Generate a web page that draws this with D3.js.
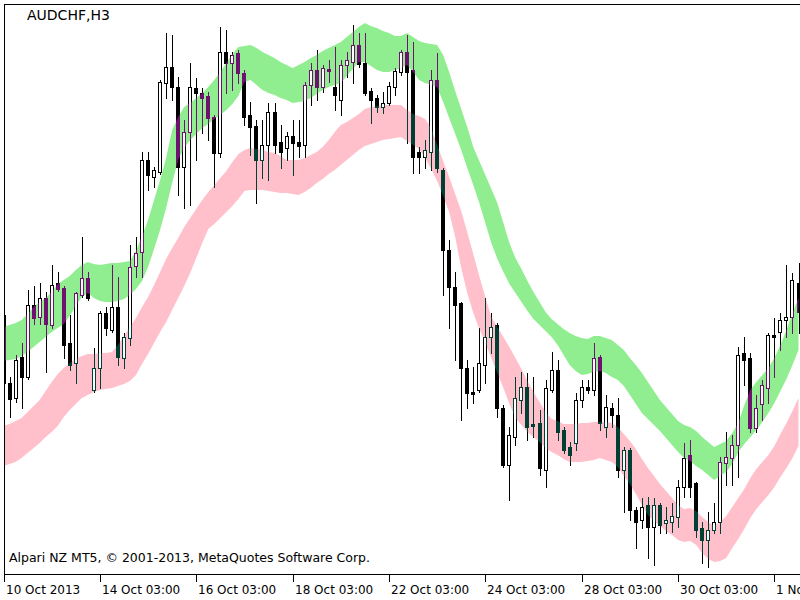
<!DOCTYPE html>
<html><head><meta charset="utf-8">
<script src="https://cdn.jsdelivr.net/npm/d3@7"></script>
<style>html,body{margin:0;padding:0;background:#fff;} svg{display:block;}</style>
</head><body>
<svg id="c" width="800" height="600"></svg>
<script>
const symbolTitle = "AUDCHF,H3";
const footerText = "Alpari NZ MT5, \u00A9 2001-2013, MetaQuotes Software Corp.";
const tickIndex = [0,16,32,48,64,80,96,112,128];
const tickLabels = ["10 Oct 2013","14 Oct 03:00","16 Oct 03:00","18 Oct 03:00","22 Oct 03:00","24 Oct 03:00","28 Oct 03:00","30 Oct 03:00","1 Nov 03:00"];

const open = [0.87425,0.87085,0.87010,0.87215,0.87115,0.87475,0.87415,0.87510,0.87375,0.87585,0.87560,0.87285,0.87185,0.87525,0.87610,0.87050,0.87160,0.87435,0.87350,0.87465,0.87210,0.87310,0.87670,0.87740,0.88200,0.88115,0.88140,0.88585,0.88665,0.88565,0.88165,0.88340,0.88560,0.88535,0.88520,0.88415,0.88235,0.88740,0.88685,0.88735,0.88635,0.88425,0.88370,0.88200,0.88275,0.88440,0.88290,0.88260,0.88320,0.88290,0.88275,0.88575,0.88650,0.88565,0.88655,0.88565,0.88500,0.88675,0.88690,0.88775,0.88685,0.88545,0.88510,0.88465,0.88485,0.88565,0.88640,0.88740,0.88650,0.88240,0.88215,0.88240,0.88600,0.88150,0.87750,0.87565,0.87485,0.87160,0.87040,0.87050,0.87175,0.87315,0.87375,0.86960,0.86675,0.86815,0.87000,0.87065,0.86880,0.86885,0.86650,0.87050,0.87150,0.86850,0.86765,0.86785,0.87000,0.87065,0.87050,0.87215,0.86865,0.86960,0.86925,0.86650,0.86750,0.86450,0.86400,0.86475,0.86365,0.86475,0.86385,0.86390,0.86415,0.86565,0.86725,0.86585,0.86360,0.86300,0.86350,0.86390,0.86685,0.86710,0.86775,0.87235,0.87210,0.86860,0.86980,0.87060,0.87325,0.87340,0.87400,0.87415,0.87585];
const high = [0.87440,0.87115,0.87225,0.87285,0.87550,0.87570,0.87585,0.87540,0.87675,0.87640,0.87570,0.87425,0.87540,0.87815,0.87640,0.87260,0.87445,0.87465,0.87675,0.87615,0.87335,0.87775,0.87815,0.88240,0.88240,0.88165,0.88600,0.88835,0.88825,0.88615,0.88400,0.88685,0.88610,0.88560,0.88540,0.88425,0.88865,0.88850,0.88740,0.88750,0.88650,0.88490,0.88400,0.88400,0.88485,0.88485,0.88375,0.88340,0.88400,0.88400,0.88590,0.88685,0.88750,0.88675,0.88700,0.88765,0.88700,0.88740,0.88875,0.88835,0.88835,0.88560,0.88525,0.88540,0.88590,0.88660,0.88750,0.88825,0.88790,0.88265,0.88300,0.88650,0.88735,0.88160,0.87800,0.87640,0.87490,0.87200,0.87165,0.87360,0.87510,0.87435,0.87385,0.86975,0.86865,0.87115,0.87140,0.87135,0.87115,0.86950,0.87100,0.87240,0.87200,0.86865,0.86790,0.87035,0.87100,0.87100,0.87285,0.87225,0.87025,0.86985,0.87010,0.86765,0.86760,0.86465,0.86510,0.86515,0.86510,0.86485,0.86465,0.86485,0.86600,0.86785,0.86800,0.86590,0.86390,0.86440,0.86485,0.86715,0.86840,0.86825,0.87265,0.87315,0.87235,0.87025,0.87100,0.87335,0.87410,0.87435,0.87675,0.87635,0.87685];
const low = [0.87070,0.86915,0.86990,0.86960,0.87105,0.87380,0.87380,0.87140,0.87360,0.87545,0.87210,0.87150,0.87085,0.87515,0.87500,0.87040,0.87060,0.87325,0.87340,0.87175,0.87160,0.87275,0.87615,0.87615,0.88050,0.88065,0.88130,0.88510,0.88500,0.88025,0.87960,0.87975,0.88200,0.88335,0.88300,0.88065,0.88215,0.88535,0.88550,0.88585,0.88375,0.88225,0.87985,0.88110,0.88100,0.88235,0.88160,0.88200,0.88125,0.88215,0.88215,0.88475,0.88500,0.88540,0.88590,0.88450,0.88425,0.88615,0.88585,0.88665,0.88525,0.88385,0.88440,0.88435,0.88475,0.88525,0.88625,0.88285,0.88135,0.88135,0.88160,0.88150,0.88140,0.87525,0.87360,0.87200,0.86900,0.86960,0.86985,0.87040,0.87085,0.87235,0.86915,0.86665,0.86500,0.86775,0.86935,0.86800,0.86815,0.86625,0.86565,0.87040,0.86800,0.86735,0.86675,0.86750,0.86965,0.87035,0.87025,0.86850,0.86815,0.86865,0.86615,0.86440,0.86400,0.86260,0.86360,0.86210,0.86175,0.86335,0.86335,0.86340,0.86365,0.86515,0.86515,0.86315,0.86185,0.86165,0.86335,0.86335,0.86575,0.86575,0.86615,0.87075,0.86840,0.86840,0.86900,0.86985,0.87115,0.87250,0.87315,0.87335,0.87335];
const close = [0.87085,0.87005,0.87200,0.87115,0.87475,0.87410,0.87510,0.87380,0.87575,0.87555,0.87275,0.87175,0.87535,0.87610,0.87510,0.87160,0.87435,0.87360,0.87465,0.87215,0.87315,0.87665,0.87735,0.88200,0.88125,0.88150,0.88590,0.88665,0.88565,0.88165,0.88340,0.88565,0.88535,0.88510,0.88410,0.88235,0.88740,0.88685,0.88725,0.88635,0.88415,0.88365,0.88200,0.88275,0.88440,0.88275,0.88240,0.88320,0.88285,0.88270,0.88575,0.88650,0.88565,0.88660,0.88645,0.88525,0.88675,0.88700,0.88775,0.88680,0.88535,0.88500,0.88465,0.88485,0.88570,0.88645,0.88740,0.88640,0.88215,0.88215,0.88250,0.88600,0.88160,0.87750,0.87565,0.87475,0.87160,0.87035,0.87030,0.87185,0.87315,0.87365,0.86960,0.86675,0.86825,0.87010,0.87065,0.86865,0.86870,0.86660,0.87060,0.87150,0.86840,0.86750,0.86725,0.87000,0.87065,0.87050,0.87210,0.86885,0.86965,0.86925,0.86650,0.86750,0.86450,0.86390,0.86465,0.86365,0.86475,0.86375,0.86400,0.86420,0.86565,0.86710,0.86565,0.86350,0.86300,0.86350,0.86390,0.86690,0.86715,0.86775,0.87225,0.87200,0.86860,0.86960,0.87075,0.87325,0.87315,0.87400,0.87415,0.87600,0.87440];

// upper (green) envelope band
const upperTop = [0.87365,0.87375,0.87385,0.87400,0.87430,0.87465,0.87490,0.87510,0.87540,0.87580,0.87600,0.87620,0.87650,0.87675,0.87690,0.87680,0.87675,0.87680,0.87685,0.87685,0.87690,0.87695,0.87745,0.87820,0.87900,0.88000,0.88100,0.88210,0.88350,0.88415,0.88465,0.88485,0.88510,0.88535,0.88565,0.88600,0.88640,0.88685,0.88730,0.88765,0.88770,0.88775,0.88760,0.88740,0.88725,0.88710,0.88690,0.88675,0.88660,0.88675,0.88690,0.88710,0.88725,0.88745,0.88760,0.88775,0.88790,0.88815,0.88840,0.88865,0.88885,0.88870,0.88860,0.88845,0.88835,0.88820,0.88820,0.88835,0.88815,0.88795,0.88785,0.88780,0.88775,0.88725,0.88640,0.88545,0.88455,0.88365,0.88265,0.88195,0.88125,0.88055,0.87985,0.87885,0.87785,0.87710,0.87655,0.87595,0.87540,0.87490,0.87440,0.87405,0.87380,0.87355,0.87335,0.87320,0.87310,0.87305,0.87320,0.87320,0.87310,0.87300,0.87275,0.87250,0.87210,0.87175,0.87135,0.87090,0.87045,0.87000,0.86965,0.86930,0.86895,0.86875,0.86865,0.86845,0.86815,0.86790,0.86765,0.86780,0.86795,0.86835,0.86885,0.86975,0.87050,0.87090,0.87125,0.87160,0.87210,0.87275,0.87350,0.87435,0.87510];
const upperBottom = [0.87195,0.87200,0.87205,0.87220,0.87240,0.87265,0.87290,0.87315,0.87340,0.87360,0.87380,0.87420,0.87470,0.87515,0.87535,0.87510,0.87495,0.87490,0.87490,0.87495,0.87505,0.87525,0.87555,0.87595,0.87665,0.87755,0.87850,0.87960,0.88085,0.88200,0.88260,0.88300,0.88330,0.88360,0.88380,0.88405,0.88425,0.88450,0.88480,0.88520,0.88590,0.88600,0.88575,0.88550,0.88535,0.88525,0.88510,0.88500,0.88485,0.88490,0.88495,0.88510,0.88530,0.88550,0.88565,0.88575,0.88585,0.88620,0.88655,0.88690,0.88690,0.88670,0.88650,0.88640,0.88640,0.88650,0.88660,0.88675,0.88640,0.88600,0.88585,0.88575,0.88565,0.88490,0.88410,0.88330,0.88250,0.88160,0.88075,0.87985,0.87885,0.87785,0.87705,0.87640,0.87580,0.87535,0.87490,0.87445,0.87405,0.87375,0.87345,0.87315,0.87275,0.87225,0.87175,0.87145,0.87125,0.87130,0.87140,0.87145,0.87135,0.87115,0.87100,0.87070,0.87025,0.86980,0.86935,0.86905,0.86875,0.86845,0.86810,0.86775,0.86740,0.86710,0.86695,0.86670,0.86650,0.86625,0.86600,0.86620,0.86640,0.86680,0.86740,0.86780,0.86815,0.86850,0.86890,0.86935,0.86985,0.87045,0.87105,0.87175,0.87250];
// lower (pink) envelope band
const lowerTop = [0.86870,0.86880,0.86895,0.86910,0.86940,0.86970,0.87000,0.87045,0.87090,0.87130,0.87160,0.87185,0.87205,0.87220,0.87230,0.87230,0.87235,0.87235,0.87240,0.87275,0.87320,0.87365,0.87410,0.87465,0.87515,0.87575,0.87640,0.87705,0.87760,0.87810,0.87865,0.87910,0.87955,0.88000,0.88040,0.88075,0.88110,0.88145,0.88190,0.88230,0.88250,0.88260,0.88255,0.88250,0.88240,0.88235,0.88220,0.88200,0.88200,0.88200,0.88210,0.88225,0.88240,0.88265,0.88300,0.88340,0.88375,0.88390,0.88410,0.88430,0.88455,0.88465,0.88470,0.88475,0.88475,0.88475,0.88475,0.88450,0.88430,0.88420,0.88405,0.88360,0.88275,0.88195,0.88115,0.88030,0.87945,0.87840,0.87730,0.87620,0.87515,0.87415,0.87365,0.87315,0.87265,0.87210,0.87155,0.87095,0.87040,0.86990,0.86940,0.86905,0.86895,0.86880,0.86880,0.86880,0.86885,0.86885,0.86890,0.86890,0.86890,0.86885,0.86865,0.86830,0.86795,0.86755,0.86705,0.86660,0.86620,0.86580,0.86545,0.86510,0.86475,0.86455,0.86460,0.86445,0.86415,0.86390,0.86370,0.86390,0.86420,0.86465,0.86510,0.86555,0.86610,0.86655,0.86690,0.86725,0.86770,0.86830,0.86885,0.86945,0.87010];
const lowerBottom = [0.86670,0.86680,0.86690,0.86710,0.86735,0.86760,0.86785,0.86815,0.86840,0.86870,0.86915,0.86950,0.86980,0.87010,0.87025,0.87040,0.87050,0.87055,0.87060,0.87070,0.87080,0.87095,0.87125,0.87180,0.87230,0.87285,0.87340,0.87390,0.87450,0.87510,0.87570,0.87635,0.87710,0.87785,0.87855,0.87880,0.87910,0.87940,0.87970,0.88005,0.88045,0.88050,0.88050,0.88050,0.88045,0.88040,0.88035,0.88035,0.88030,0.88025,0.88040,0.88060,0.88085,0.88105,0.88130,0.88150,0.88175,0.88200,0.88225,0.88250,0.88270,0.88280,0.88290,0.88300,0.88305,0.88310,0.88315,0.88295,0.88275,0.88255,0.88210,0.88155,0.88095,0.88020,0.87940,0.87815,0.87660,0.87535,0.87435,0.87355,0.87285,0.87210,0.87135,0.87060,0.86980,0.86910,0.86875,0.86840,0.86815,0.86790,0.86760,0.86740,0.86725,0.86705,0.86690,0.86690,0.86690,0.86695,0.86700,0.86710,0.86700,0.86690,0.86665,0.86620,0.86580,0.86530,0.86475,0.86425,0.86395,0.86370,0.86345,0.86325,0.86300,0.86290,0.86295,0.86275,0.86235,0.86205,0.86190,0.86195,0.86210,0.86260,0.86305,0.86355,0.86410,0.86455,0.86490,0.86525,0.86565,0.86615,0.86660,0.86710,0.86770];

const W = 800, H = 600;
const n = open.length;
const svg = d3.select("#c").style("isolation","isolate");
svg.append("rect").attr("width", W).attr("height", H).attr("fill", "#fff");

const x = d3.scaleLinear().domain([0, n - 1]).range([3.5, 798.5]);
const xr = x.copy().interpolate(d3.interpolateRound);
const y = d3.scaleLinear().domain([0.86, 0.89]).range([H, 0]);

svg.append("defs").append("clipPath").attr("id", "plot")
  .append("rect").attr("x", 5).attr("y", 5).attr("width", W - 5).attr("height", 569);

const plot = svg.append("g").attr("clip-path", "url(#plot)");
plot.append("rect").attr("x", 0).attr("y", 0).attr("width", W).attr("height", H).attr("fill", "#fff");

const idx = d3.range(n);
const bars = idx.map(i => {
  const cx = xr(i);
  const t = Math.round(y(Math.max(open[i], close[i])));
  const b = Math.round(y(Math.min(open[i], close[i])));
  return {i, cx, t, b, yh: Math.round(y(high[i])), yl: Math.round(y(low[i])), bull: close[i] > open[i]};
});

// wicks
plot.append("g").selectAll("line").data(bars).join("line")
  .attr("x1", d => d.cx + 0.5).attr("x2", d => d.cx + 0.5)
  .attr("y1", d => d.yh).attr("y2", d => d.yl + 1)
  .attr("stroke", "#000").attr("stroke-width", 1);

// bodies
plot.append("g").selectAll("rect").data(bars.filter(d => d.b - d.t >= 1)).join("rect")
  .attr("x", d => d.cx - 1.5).attr("width", 3)
  .attr("y", d => d.t + 0.5).attr("height", d => d.b - d.t)
  .attr("fill", d => d.bull ? "#fff" : "#000")
  .attr("stroke", "#000").attr("stroke-width", 1);
plot.append("g").selectAll("line").data(bars.filter(d => d.b - d.t < 1)).join("line")
  .attr("x1", d => d.cx - 2).attr("x2", d => d.cx + 2)
  .attr("y1", d => d.t + 0.5).attr("y2", d => d.t + 0.5)
  .attr("stroke", "#000");

// filled envelope bands (XOR-like difference blend, as MT5 draws them)
const area = (top, bot) => d3.area().x(i => x(i)).y0(i => y(bot[i])).y1(i => y(top[i]))(idx);
plot.append("path").attr("d", area(upperTop, upperBottom))
  .attr("fill", "rgb(111,17,111)").style("mix-blend-mode", "difference");
plot.append("path").attr("d", area(lowerTop, lowerBottom))
  .attr("fill", "rgb(0,63,52)").style("mix-blend-mode", "difference");

// white interiors of bullish bodies
plot.append("g").selectAll("rect").data(bars.filter(d => d.bull && d.b - d.t >= 2)).join("rect")
  .attr("x", d => d.cx - 1).attr("width", 2)
  .attr("y", d => d.t + 1).attr("height", d => d.b - d.t - 1)
  .attr("fill", "#fff");

// frame
svg.append("line").attr("x1", 4).attr("x2", W).attr("y1", 4.5).attr("y2", 4.5).attr("stroke", "#000");
svg.append("line").attr("x1", 4.5).attr("x2", 4.5).attr("y1", 4).attr("y2", 582).attr("stroke", "#000");
svg.append("line").attr("x1", 4).attr("x2", W).attr("y1", 574.5).attr("y2", 574.5).attr("stroke", "#000");

// time axis
const axis = d3.axisBottom(xr).tickValues(tickIndex).tickFormat((d, k) => tickLabels[k]).tickSize(7).tickSizeOuter(0);
const gx = svg.append("g").attr("transform", "translate(0,575)").call(axis)
  .attr("font-family", "DejaVu Sans").attr("font-size", 12).attr("color", "#000");
gx.select(".domain").remove();
gx.selectAll(".tick text").attr("text-anchor", "start").attr("x", 1.5).attr("y", 19).attr("dy", null).attr("fill", "#000");

// texts
svg.append("text").attr("x", 27).attr("y", 20).attr("font-family", "DejaVu Sans").attr("font-size", 14)
  .attr("fill", "#000").text(symbolTitle);
svg.append("text").attr("x", 9).attr("y", 562).attr("font-family", "DejaVu Sans").attr("font-size", 12.5)
  .attr("fill", "#000").text(footerText);
</script>
</body></html>
